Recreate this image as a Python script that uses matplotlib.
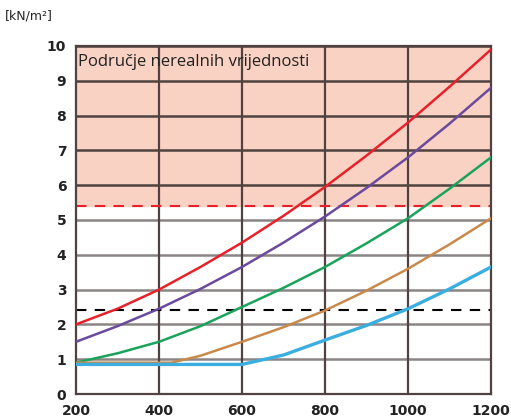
import matplotlib
matplotlib.use("Agg")
import matplotlib.pyplot as plt
import numpy as np

x = [200, 300, 400, 500, 600, 700, 800, 900, 1000, 1100, 1200]
red = [2.0, 2.45, 3.0, 3.65, 4.35, 5.12, 5.95, 6.85, 7.8, 8.83, 9.9]
purple = [1.5, 1.95, 2.45, 3.02, 3.65, 4.35, 5.1, 5.92, 6.8, 7.77, 8.8]
green = [0.9, 1.17, 1.5, 1.95, 2.5, 3.05, 3.65, 4.33, 5.05, 5.9, 6.8]
brown_x = [200, 300, 430, 500, 600, 700, 800, 900, 1000, 1100, 1200]
brown = [0.9, 0.9, 0.9, 1.1, 1.5, 1.92, 2.4, 2.97, 3.6, 4.3, 5.05]
blue_x = [200, 400, 600, 700, 800, 900, 1000, 1100, 1200]
blue = [0.85, 0.85, 0.85, 1.12, 1.55, 1.97, 2.45, 3.02, 3.65]
limit_red = 5.4
limit_black = 2.4
xticks = [200, 400, 600, 800, 1000, 1200]
yticks = list(range(0, 11))

fig = plt.figure(figsize=(5.11, 4.18), dpi=100)
ax = fig.add_axes([0.1487, 0.0574, 0.8123, 0.8326])
ax.set_xlim(200, 1200)
ax.set_ylim(0, 10)

ax.axhspan(limit_red, 10, color="#f9d2c4", zorder=0)
grid_dark = "#4f4240"
grid_light = "#8a8584"
for yv in yticks[1:]:
    ax.axhline(yv, color=grid_dark if yv > limit_red else grid_light, lw=1.8, zorder=1)
for xv in xticks[1:-1]:
    ax.axvline(xv, color=grid_dark, lw=1.6, zorder=1)
for s in ax.spines.values():
    s.set_color(grid_dark)
    s.set_linewidth(1.6)

ax.axhline(limit_red, color="#e8202a", lw=1.5, ls=(0, (5, 4)), zorder=2)
ax.axhline(limit_black, color="black", lw=1.5, ls=(0, (5, 4)), zorder=2)

ax.plot(x, red, color="#e8202a", lw=1.8, zorder=3)
ax.plot(x, purple, color="#6a4a9c", lw=1.8, zorder=3)
ax.plot(x, green, color="#1aa35a", lw=1.8, zorder=3)
ax.plot(brown_x, brown, color="#c9894a", lw=1.8, zorder=3)
ax.plot(blue_x, blue, color="#3aaee0", lw=2.4, zorder=3)

ax.text(205, 9.55, "Područje nerealnih vrijednosti", fontsize=12, va="center", ha="left",
        family="Open Sans", color="#222222", zorder=4)

ax.set_xticks(xticks)
ax.set_yticks(yticks)
ax.tick_params(length=0, labelsize=10, pad=7)
for lab in ax.get_xticklabels() + ax.get_yticklabels():
    lab.set_fontweight("bold")
    lab.set_color("#222222")
fig.text(0.01, 0.953, "[kN/m²]", fontsize=9, color="#222222")

fig.savefig("out.png", dpi=100)
